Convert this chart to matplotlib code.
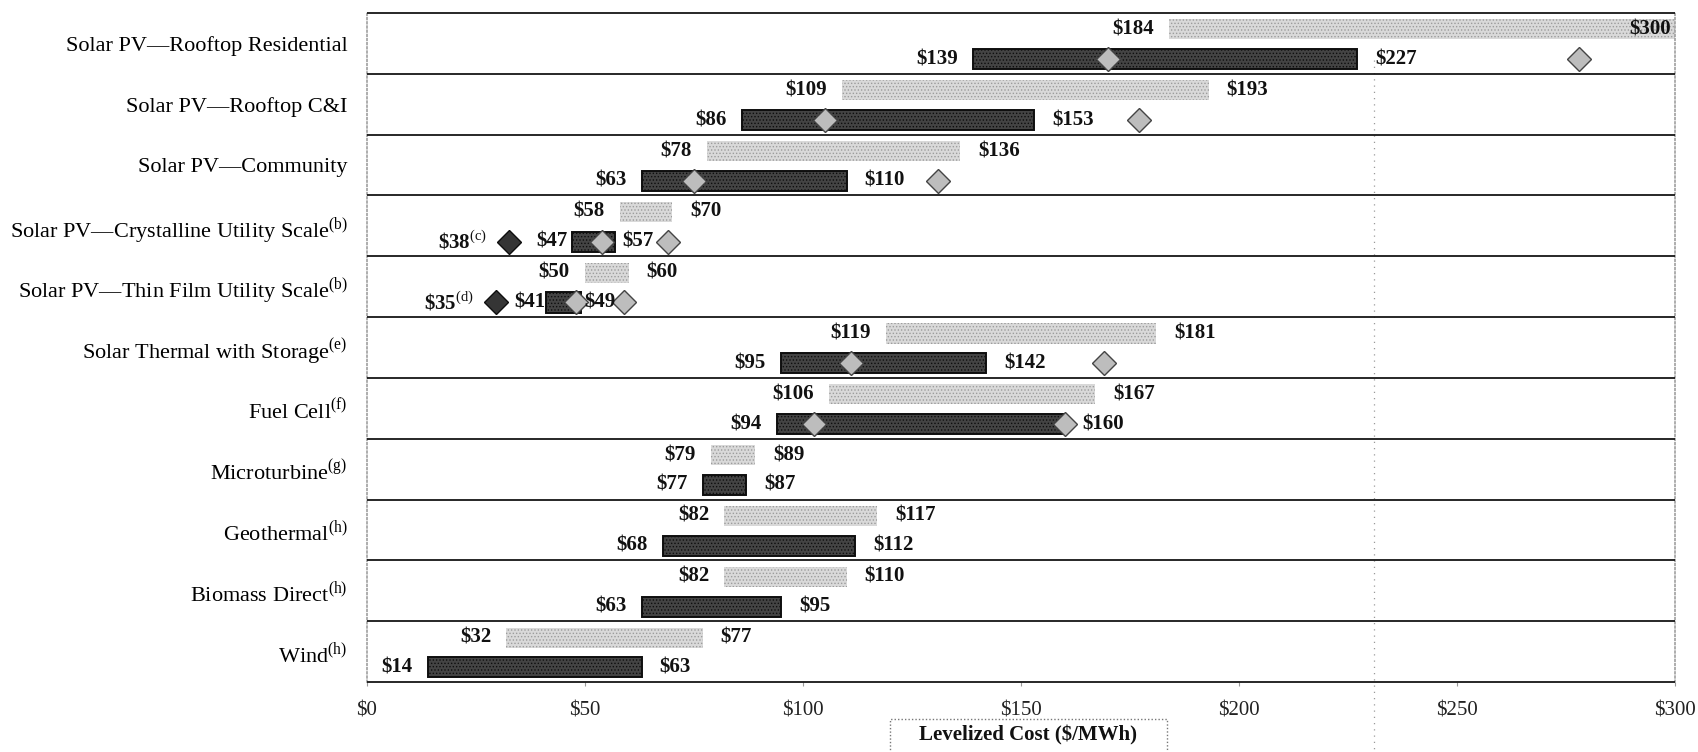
import numpy as np
import matplotlib.pyplot as plt
import matplotlib.transforms as mtransforms
from matplotlib.patches import Rectangle
from matplotlib.lines import Line2D

plt.rcParams['font.family'] = ['Liberation Serif', 'DejaVu Serif']
plt.rcParams['mathtext.fontset'] = 'custom'
plt.rcParams['mathtext.rm'] = 'Liberation Serif'
plt.rcParams['hatch.linewidth'] = 0.6

categories = [
    'Solar PV—Rooftop Residential',
    'Solar PV—Rooftop C&I',
    'Solar PV—Community',
    r'Solar PV—Crystalline Utility Scale$^{\mathrm{(b)}}$',
    r'Solar PV—Thin Film Utility Scale$^{\mathrm{(b)}}$',
    r'Solar Thermal with Storage$^{\mathrm{(e)}}$',
    r'Fuel Cell$^{\mathrm{(f)}}$',
    r'Microturbine$^{\mathrm{(g)}}$',
    r'Geothermal$^{\mathrm{(h)}}$',
    r'Biomass Direct$^{\mathrm{(h)}}$',
    r'Wind$^{\mathrm{(h)}}$',
]

# unsubsidized range (light bars) and subsidized range (dark bars), $/MWh
light_low = [184, 109, 78, 58, 50, 119, 106, 79, 82, 82, 32]
light_high = [300, 193, 136, 70, 60, 181, 167, 89, 117, 110, 77]
dark_low = [139, 86, 63, 47, 41, 95, 94, 77, 68, 63, 14]
dark_high = [227, 153, 110, 57, 49, 142, 160, 87, 112, 95, 63]

# midpoint markers on the subsidized row
mid_sub = [170, 105, 75, 54, 48, 111, 102.5, np.nan, np.nan, np.nan, np.nan]
mid_unsub = [278, 177, 131, 69, 59, 169, 160, np.nan, np.nan, np.nan, np.nan]

# best-in-class points with footnotes
best_cost = [np.nan, np.nan, np.nan, 38, 35, np.nan, np.nan, np.nan, np.nan, np.nan, np.nan]
best_note = ['', '', '', 'c', 'd', '', '', '', '', '', '']

xticks = [0, 50, 100, 150, 200, 250, 300]

# label gap (points) for the dark-bar labels; tight for the short utility bars
dark_gap = [11, 11, 11, 3, 0.5, 11, 11, 11, 11, 11, 11]

fig = plt.figure(figsize=(16.98, 7.52), dpi=100)
ax = fig.add_axes([0.2161, 0.0931, 0.7704, 0.8896])

n = len(categories)
y = np.arange(n)
y_light = y + 0.27
y_dark = y + 0.76
h = 0.33

ll = np.array(light_low); lh = np.array(light_high)
dl = np.array(dark_low); dh = np.array(dark_high)

ax.barh(y_light, lh - ll, left=ll, height=h, color='#d9d9d9',
        edgecolor='#9c9c9c', hatch='.....', linewidth=0, zorder=2)
ax.barh(y_dark, dh - dl, left=dl, height=h, color='#444444',
        edgecolor='#0e0e0e', hatch='.....', linewidth=1.4, zorder=2)

ax.plot(mid_sub, y_dark, 'D', ms=12, mfc='#bdbdbd', mec='#444444', mew=1.0, zorder=5)
ax.plot(mid_unsub, y_dark, 'D', ms=12, mfc='#bdbdbd', mec='#444444', mew=1.0, zorder=5)

# best-in-class diamonds sit just left of the subsidized labels
shift = mtransforms.ScaledTranslation(-23.5 / 100, 0, fig.dpi_scale_trans)
ax.plot(best_cost, y_dark, 'D', ms=12, mfc='#353535', mec='#0e0e0e', mew=1.0,
        zorder=5, transform=ax.transData + shift)

lab = dict(fontsize=15, fontweight='bold', va='center', color='#111111',
           textcoords='offset points', zorder=6)
xmax = 300
for i in range(n):
    ax.annotate(f'\\${light_low[i]}', (light_low[i], y_light[i]), xytext=(-11, 0), ha='right', **lab)
    if light_high[i] >= xmax:
        ax.annotate(f'\\${light_high[i]}', (light_high[i], y_light[i]), xytext=(-3, 0), ha='right', **lab)
    else:
        ax.annotate(f'\\${light_high[i]}', (light_high[i], y_light[i]), xytext=(13, 0), ha='left', **lab)
    ax.annotate(f'\\${dark_low[i]}', (dark_low[i], y_dark[i]), xytext=(-dark_gap[i], 0), ha='right', **lab)
    ax.annotate(f'\\${dark_high[i]}', (dark_high[i], y_dark[i]), xytext=(dark_gap[i] + 2, 0), ha='left', **lab)
    if not np.isnan(best_cost[i]):
        ax.annotate(f'\\${best_cost[i]}$^{{\\mathrm{{({best_note[i]})}}}}$', (best_cost[i], y_dark[i]),
                    xytext=(-32.5, 0), ha='right', **lab)

# row separators
ax.hlines(np.arange(n + 1), 0, xmax, color='#161616', lw=1.3, zorder=3, clip_on=False)

# faint dotted guide
ax.add_line(Line2D([231, 231], [0.93, -0.125], transform=ax.get_xaxis_transform(),
                   ls=(0, (1, 4)), color='#9a9a9a', lw=0.9, clip_on=False, zorder=1))

ax.set_xlim(0, xmax)
ax.set_ylim(n, 0)
ax.set_yticks(y + 0.5)
ax.set_yticklabels(categories, fontsize=16)
ax.tick_params(axis='y', length=0, pad=14)
ax.set_xticks(xticks)
ax.set_xticklabels([f'\\${v}' for v in xticks], fontsize=15, color='#222222')
ax.tick_params(axis='x', length=3, width=0.8, color='#999999', pad=11)

for s in ['top', 'bottom']:
    ax.spines[s].set_visible(False)
for s in ['left', 'right']:
    ax.spines[s].set_linestyle((0, (1, 1.5)))
    ax.spines[s].set_color('#a0a0a0')
    ax.spines[s].set_linewidth(1.2)

# axis title in a dotted box below the ticks
fig.add_artist(Rectangle((890 / 1698, -0.02), 277 / 1698, (752 - 719) / 752 + 0.02,
                         transform=fig.transFigure, fill=False, ls=(0, (1, 1.5)),
                         ec='#777777', lw=1.0))
fig.text(1028 / 1698, 1 - 735 / 752, 'Levelized Cost (\\$/MWh)', ha='center', va='center',
         fontsize=15, fontweight='bold', color='#111111')

fig.savefig('out.png', dpi=100)
